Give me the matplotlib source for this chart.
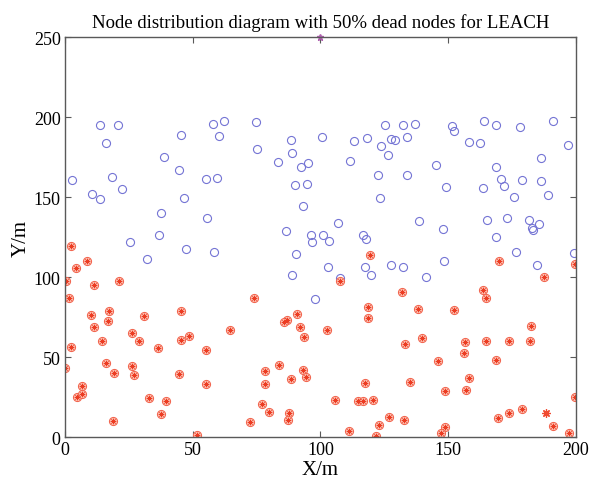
import matplotlib
matplotlib.use("Agg")
import matplotlib.pyplot as plt

# alive nodes (blue circles)
alive_x = [13.8, 20.9, 16.2, 2.7, 18.4, 22.5, 10.6, 13.6, 38.8, 44.6, 45.5, 46.5, 37.5, 37.0, 25.5,
           55.8, 55.4, 59.5, 58.0, 62.1, 60.5, 74.9, 75.0, 88.4, 88.8, 83.5, 92.3, 95.0, 100.7, 90.2,
           94.8, 93.1, 106.9, 86.7, 96.2, 96.6, 101.1, 103.3, 116.6, 117.9, 111.5, 113.2, 118.4, 122.5,
           123.4, 123.8, 126.4, 127.5, 129.4, 125.4, 132.5, 137.1, 134.0, 151.4, 152.5, 158.2, 162.5,
           164.2, 168.9, 178.2, 191.0, 197.0, 186.4, 145.4, 134.0, 168.7, 170.9, 178.9, 186.2, 149.0,
           163.5, 171.8, 175.8, 189.1, 138.8, 148.0, 165.4, 172.9, 181.8, 182.7, 183.3, 185.5, 168.9,
           47.3, 58.2, 32.2, 90.3, 103.1, 89.0, 107.7, 97.9, 117.4, 120.0, 127.6, 132.5, 176.6, 199.2,
           184.8, 148.4, 141.4]
alive_y = [195.2, 195.4, 183.6, 160.8, 162.9, 155.4, 151.9, 148.8, 175.0, 166.7, 189.0, 149.6, 139.8,
           126.3, 122.0, 137.0, 161.5, 162.1, 196.0, 197.7, 188.1, 196.7, 180.4, 186.0, 177.3, 171.9,
           168.7, 171.5, 187.9, 157.3, 158.3, 144.2, 133.9, 128.9, 126.4, 121.7, 126.4, 122.3, 126.4,
           123.9, 172.3, 185.0, 187.1, 163.8, 149.2, 181.7, 176.1, 186.1, 185.8, 194.8, 195.0, 195.8,
           187.9, 194.2, 191.5, 184.2, 183.8, 197.3, 195.0, 193.9, 197.5, 182.7, 174.4, 170.2, 163.8,
           169.0, 161.3, 160.8, 159.8, 156.3, 156.0, 156.7, 150.2, 151.3, 134.8, 129.8, 136.0, 136.7,
           135.6, 131.0, 129.4, 133.5, 124.8, 117.3, 116.0, 111.3, 114.4, 106.4, 101.3, 99.4, 86.4,
           106.3, 101.1, 107.5, 106.4, 115.8, 114.8, 107.5, 110.2, 100.2]

# dead nodes (red circle + asterisk)
dead_x = [2.4, 8.7, 4.3, 0.3, 11.2, 21.3, 1.7, 10.1, 17.1, 17.0, 11.4, 31.0, 45.4, 26.3, 14.6, 29.1,
          45.5, 48.4, 64.7, 119.3, 107.7, 74.2, 131.9, 118.7, 118.7, 91.0, 86.8, 85.9, 92.2, 102.7,
          93.7, 169.8, 199.6, 187.7, 163.6, 165.0, 138.3, 152.2, 182.4, 139.6, 133.1, 156.5, 165.0,
          173.7, 182.1, 2.2, 36.6, 55.4, 0.1, 16.2, 19.2, 26.4, 27.2, 44.7, 55.2, 6.8, 4.6, 6.8, 33.1,
          39.6, 37.8, 18.9, 51.9, 78.2, 84.0, 93.2, 88.4, 94.5, 78.2, 117.3, 77.0, 79.7, 72.3, 87.6,
          87.2, 105.6, 114.8, 116.5, 120.7, 126.7, 123.1, 111.1, 121.8, 132.9, 156.2, 146.0, 168.7,
          158.3, 135.2, 148.7, 156.9, 199.6, 169.4, 173.7, 178.9, 191.1, 197.4, 148.7, 147.3]
dead_y = [119.6, 109.8, 105.6, 97.3, 95.0, 97.9, 87.1, 76.3, 78.9, 72.9, 68.8, 75.8, 78.8, 65.4, 60.2,
          60.0, 60.6, 63.1, 66.7, 113.9, 97.5, 87.1, 90.8, 81.5, 74.4, 77.1, 73.5, 71.7, 69.0, 67.1,
          62.7, 110.4, 108.1, 100.2, 92.1, 86.7, 80.4, 79.6, 69.4, 61.9, 58.5, 59.6, 60.0, 60.2, 60.0,
          56.1, 55.8, 54.4, 43.5, 46.5, 40.2, 44.2, 39.0, 39.4, 33.5, 32.1, 25.4, 26.7, 24.6, 22.9,
          14.6, 10.4, 1.2, 41.4, 45.0, 42.1, 36.3, 37.5, 33.5, 33.8, 20.6, 15.8, 9.2, 14.8, 10.8,
          23.5, 22.7, 22.5, 23.3, 12.9, 7.9, 3.6, 0.5, 10.6, 52.3, 47.9, 48.5, 36.7, 34.2, 29.0,
          29.2, 25.0, 11.7, 15.0, 17.5, 6.9, 2.3, 6.1, 2.9]

# node shown only as asterisk, and base station
star_x = [188.2]
star_y = [14.8]
bs_x = [100]
bs_y = [250]

plt.rcParams['font.family'] = ['Liberation Serif', 'DejaVu Serif']

fig = plt.figure(figsize=(5.9, 4.89), dpi=100)
ax = fig.add_axes([0.110, 0.104, 0.866, 0.818])

ax.plot(alive_x, alive_y, 'o', mfc='none', mec='#7474d4', mew=0.8, ms=5.8, ls='none')
ax.plot(dead_x, dead_y, 'o', mfc='#ffd2c4', mec='#f26650', mew=0.8, ms=5.8, ls='none')
ax.plot(dead_x, dead_y, marker=(8, 2, 0), color='#ec3c22', mew=0.5, ms=4, ls='none')
ax.plot(star_x, star_y, marker=(8, 2, 0), color='#f04a30', mew=0.9, ms=6, ls='none')
ax.plot(bs_x, bs_y, '*', color='#b060b0', ms=5, ls='none', clip_on=False)

ax.set_xlim(0, 200)
ax.set_ylim(0, 250)
ax.set_xticks([0, 50, 100, 150, 200])
ax.set_yticks([0, 50, 100, 150, 200, 250])
ax.tick_params(direction='in', length=4, width=0.8, top=True, right=True,
               labelsize=13, color='0.35', pad=3)
for s in ax.spines.values():
    s.set_color('0.35')
    s.set_linewidth(1)

ax.set_title('Node distribution diagram with 50% dead nodes for LEACH', fontsize=13.5, pad=7)
ax.set_xlabel('X/m', fontsize=15, labelpad=1)
ax.set_ylabel('Y/m', fontsize=15, labelpad=2)

fig.savefig('out.png', dpi=100)
